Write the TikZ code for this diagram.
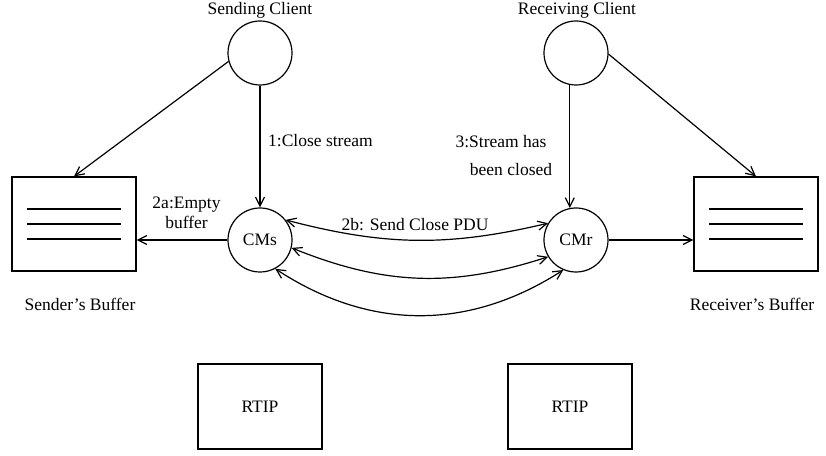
\documentclass[tikz,border=0pt]{standalone}
\usepackage{fontspec}
\setmainfont{Liberation Serif}
\usetikzlibrary{arrows.meta,calc}
\begin{document}
\begin{tikzpicture}[x=1pt,y=1pt,
  every node/.style={font=\fontsize{17.5}{20}\selectfont, inner sep=0pt},
  circ/.style={draw, circle, minimum size=64pt, line width=1.2pt},
  box/.style={draw, rectangle, line width=1.2pt, minimum width=124pt},
  conn/.style={line width=1.2pt, -{Straight Barb[length=9pt,width=9pt,line width=1.2pt]}},
  bconn/.style={line width=1.2pt, {Straight Barb[length=9pt,width=9pt,line width=1.2pt]}-{Straight Barb[length=9pt,width=9pt,line width=1.2pt]}},
  bufline/.style={line width=1.2pt}]
\useasboundingbox (0,0) rectangle (826,455);
% nodes
\node[circ] (SC) at (260,402) {};
\node[circ] (RC) at (576,402) {};
\node (SCl) at (260,445) {Sending Client};
\node (RCl) at (577,445) {Receiving Client};
\node[circ] (CMs) at (260,215) {CMs};
\node[circ] (CMr) at (576,215) {CMr};
\node[box, minimum height=94pt] (SB) at (74,231) {};
\node[box, minimum height=94pt] (RB) at (756,231) {};
\node[box, minimum height=85pt] (R1) at (260,48.5) {RTIP};
\node[box, minimum height=85pt] (R2) at (570,48.5) {RTIP};
\node (SBl) at (80,151) {Sender's Buffer};
\node (RBl) at (752,151) {Receiver's Buffer};
% buffer lines
\foreach \b in {SB,RB}{
  \draw[bufline] ($(\b.center)+(-47,15)$) -- ($(\b.center)+(47,15)$);
  \draw[bufline] ($(\b.center)+(-47,0)$) -- ($(\b.center)+(47,0)$);
  \draw[bufline] ($(\b.center)+(-47,-15)$) -- ($(\b.center)+(47,-15)$);
}
% labels
\node[anchor=west] (l1) at (268,314) {1:Close stream};
\node (l3a) at (501,313) {3:Stream has};
\node (l3b) at (511,285) {been closed};
\node[align=center] (l2a) at (186.5,242) {2a:Empty\\[0pt]buffer};
\node (l2b) at (415,230) {2b: Send Close PDU};
% connectors
\draw[conn] (SC.195) -- (SB.north);
\draw[conn] (RC.-2) -- (RB.north);
\draw[conn] (SC.south) -- (CMs.north);
\draw[conn] (RC.259) -- (CMr.101);
\draw[conn] (CMs.west) -- (CMs.west -| SB.east);
\draw[conn] (CMr.east) -- (CMr.east -| RB.west);
\draw[bconn] (CMs.38) to[bend right=14] (CMr.149);
\draw[bconn] (CMs.-14) to[bend right=20] (CMr.211);
\draw[bconn] (CMs.-62) to[bend right=33] (CMr.247);
\end{tikzpicture}
\end{document}
